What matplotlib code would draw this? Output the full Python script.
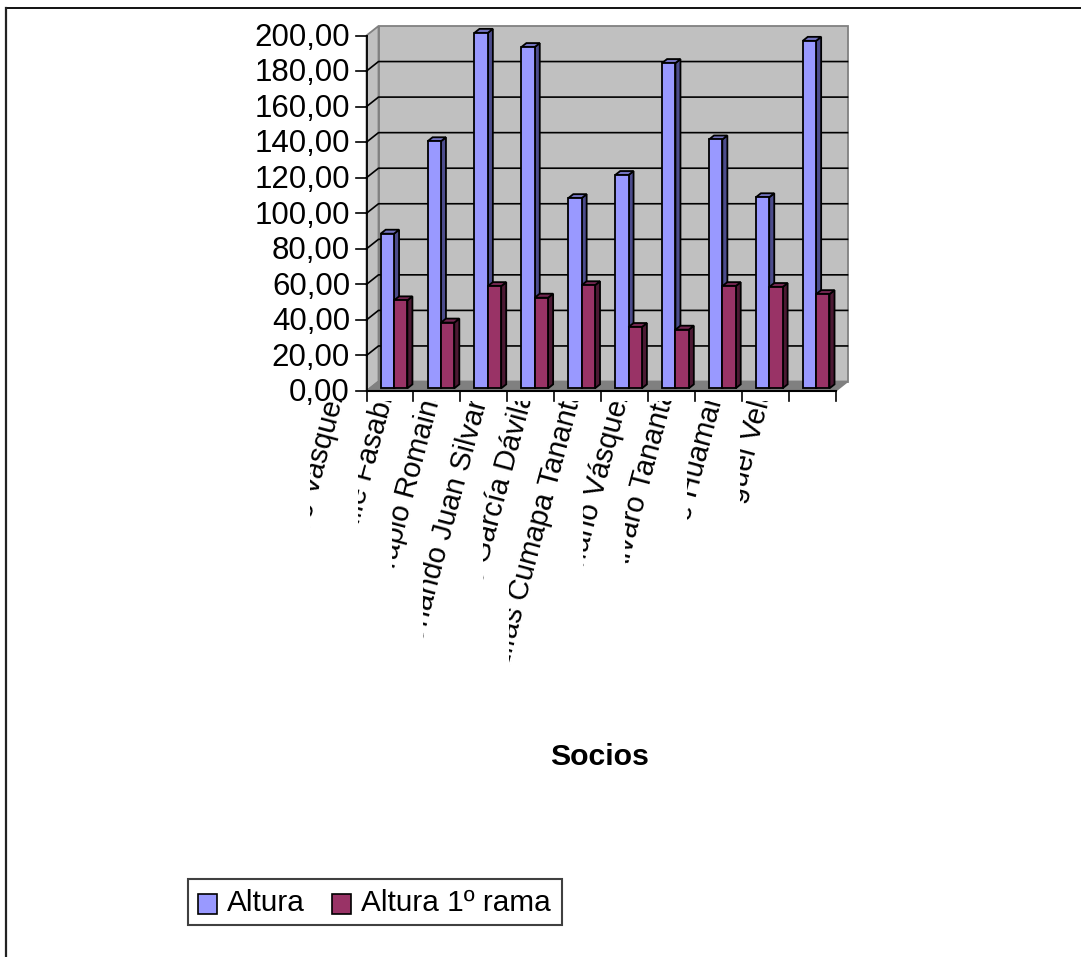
#!/usr/bin/python
import matplotlib
matplotlib.use('Agg')
import matplotlib.pyplot as plt
from matplotlib.lines import Line2D
from matplotlib.patches import Polygon, Rectangle
from matplotlib.transforms import Bbox, IdentityTransform

plt.rcParams['font.family'] = ['Liberation Sans', 'DejaVu Sans']

socios = ['Pedro Vasquez', 'Julie Fasabi', 'Tapio Romaina', 'Orlando Juan Silvar', 'Luis García Dávila',
	'Elías Cumapa Tananta', 'Mario Vásquez', 'Alvaro Tananta', 'José Huaman', 'Miguel Vela']
altura = [87, 139, 200, 192, 107, 120, 183, 140, 107.5, 195.5]
rama = [49.5, 37, 57.5, 51, 58, 34.5, 33, 57.5, 57, 53]
yticks = [0, 20, 40, 60, 80, 100, 120, 140, 160, 180, 200]
series = ['Altura', 'Altura 1º rama']
colors = ['#9999FF', '#993366']
sides = ['#4C4C8C', '#4C1933']
tops = ['#7373BF', '#732650']

W, H = 1081, 957
LEFT, RIGHT, TOP, BOTTOM = 366.5, 835.5, 35.5, 391.0

# pixels covered by one unit of depth, then the same in data units
DEPTH_X, DEPTH_Y = 12.0, 9.5
ddx = DEPTH_X / ((RIGHT - LEFT) / len(socios))
ddy = DEPTH_Y / ((BOTTOM - TOP) / 200.0)

# where the label of each category ends, and where it gets cut on the left
label_end = [(338, 387), (386, 396), (436, 385), (480, 400), (526, 392), (576, 386), (624, 387), (667, 389), (717, 390), (765, 386)]
label_cut = [310, 358, 392, 423, 483, 509, 583, 625, 687, 740]
label_low = [540, 525, 577, 640, 590, 665, 580, 590, 520, 505]


def proj(x, y, d):
	return (x + d * ddx, y + d * ddy)


def drawBar(ax, x0, x1, val, d0, d1, face, side, top):
	lw = 1.3
	front = [proj(x0, 0, d0), proj(x1, 0, d0), proj(x1, val, d0), proj(x0, val, d0)]
	right = [proj(x1, 0, d0), proj(x1, 0, d1), proj(x1, val, d1), proj(x1, val, d0)]
	lid = [proj(x0, val, d0), proj(x1, val, d0), proj(x1, val, d1), proj(x0, val, d1)]
	ax.add_patch(Polygon(right, closed=True, fc=side, ec='black', lw=lw, clip_on=False, zorder=4))
	ax.add_patch(Polygon(lid, closed=True, fc=top, ec='black', lw=lw, clip_on=False, zorder=4))
	ax.add_patch(Polygon(front, closed=True, fc=face, ec='black', lw=lw, clip_on=False, zorder=4))


fig = plt.figure(figsize=(W / 100.0, H / 100.0), dpi=100)
fig.patch.set_facecolor('white')

# frame of the chart area: only the top and left edges fall inside the canvas
fig.add_artist(Line2D([6, W], [H - 8, H - 8], transform=IdentityTransform(), color='#111111', lw=1.4))
fig.add_artist(Line2D([6, 6], [H - 8, 0], transform=IdentityTransform(), color='#222222', lw=1.6))

ax = fig.add_axes([LEFT / W, 1 - BOTTOM / H, (RIGHT - LEFT) / W, (BOTTOM - TOP) / H])
ax.set_xlim(0, len(socios))
ax.set_ylim(0, 200)
ax.axis('off')

n = len(socios)
wall = [proj(0, 0, 1), proj(n, 0, 1), proj(n, 200, 1), proj(0, 200, 1)]
side_wall = [proj(0, 0, 0), proj(0, 0, 1), proj(0, 200, 1), proj(0, 200, 0)]
floor = [proj(0, 0, 0), proj(n, 0, 0), proj(n, 0, 1), proj(0, 0, 1)]
for poly, fc in ((wall, '#C0C0C0'), (side_wall, '#C0C0C0'), (floor, '#808080')):
	ax.add_patch(Polygon(poly, closed=True, fc=fc, ec='#808080', lw=1.3, clip_on=False, zorder=1))

# gridlines run along the side wall and the back wall
for v in yticks[1:-1]:
	pts = [proj(0, v, 0), proj(0, v, 1), proj(n, v, 1)]
	ax.plot([p[0] for p in pts], [p[1] for p in pts], color='black', lw=1.2, clip_on=False, zorder=2)

for v in yticks:
	ax.plot([0, -10.5 / 46.9], [v, v], color='black', lw=1.2, clip_on=False, zorder=5)
	ax.text(-16.5 / 46.9, v + 0.7, ('%.2f' % v).replace('.', ','), ha='right', va='center_baseline',
		fontsize=22.5, color='black', clip_on=False)
ax.plot([0, 0], [0, 200], color='black', lw=1.3, clip_on=False, zorder=5)
ax.plot([0, n], [0, 0], color='black', lw=1.5, clip_on=False, zorder=5)
for i in range(n + 1):
	ax.plot([i, i], [0, -10.5 / 1.78], color='black', lw=1.2, clip_on=False, zorder=5)

for i in range(n):
	drawBar(ax, i + 0.23, i + 0.515, altura[i], 0.28, 0.7, colors[0], sides[0], tops[0])
	drawBar(ax, i + 0.515, i + 0.80, rama[i], 0.28, 0.7, colors[1], sides[1], tops[1])

# category labels are slanted and cut off by the space below the axis
for i in range(n):
	ex, ey = label_end[i]
	t = fig.text(ex, H - ey, socios[i], rotation=75, rotation_mode='anchor', ha='right', va='center',
		fontsize=21, color='black', transform=IdentityTransform())
	t.set_clip_box(Bbox([[label_cut[i], H - label_low[i]], [ex + 30, H - 401]]))
	t.set_clip_on(True)

fig.text(600 / W, 1 - 757 / H, 'Socios', ha='center', va='center', fontsize=21.8, fontweight='bold')

# legend box
fig.add_artist(Rectangle((188, H - 925), 374, 46, transform=IdentityTransform(), fc='white', ec='#404040', lw=1.5))
for bx, col in zip((197.5, 331.5), colors):
	fig.add_artist(Rectangle((bx, H - 914), 19.5, 20, transform=IdentityTransform(), fc=col, ec='black', lw=1.2))
for tx, name in zip((227, 361), series):
	fig.text(tx, H - 911, name, ha='left', va='baseline', fontsize=21.4, transform=IdentityTransform())

plt.savefig('out.png', dpi=100)
